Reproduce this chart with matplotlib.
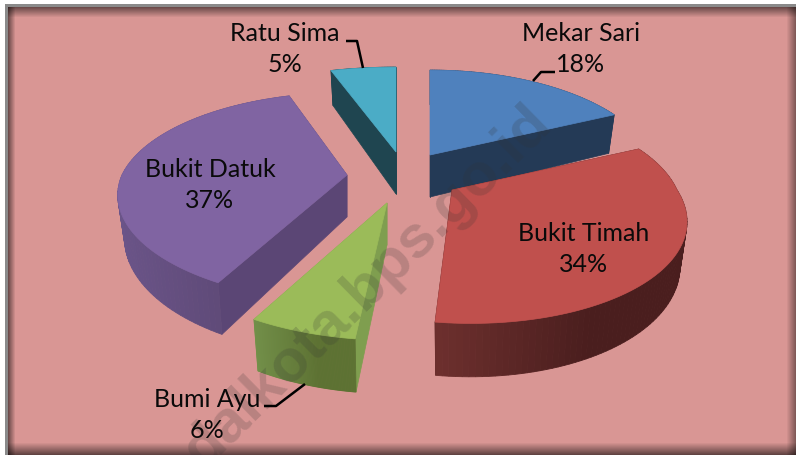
import matplotlib
matplotlib.use("Agg")
import matplotlib.pyplot as plt
import matplotlib.colors as mcolors
from matplotlib.patches import Polygon
import numpy as np

# data
categories = ["Mekar Sari", "Bukit Timah", "Bumi Ayu", "Bukit Datuk", "Ratu Sima"]
values = [18, 34, 6, 37, 5]
watermark = "dalkota.bps.go.id"

# styles per slice
top_colors = ["#4F81BD", "#C0504D", "#9BBB59", "#8064A2", "#4BACC6"]
cut_colors = ["#243A56", "#4A1E1E", "#7F9E4F", "#5B4675", "#1F4550"]
side_left = ["#243A56", "#6E302E", "#728F49", "#6A5488", "#1F4550"]
side_right = ["#243A56", "#4A1E1E", "#5D7233", "#5F4A78", "#1F4550"]

# where each exploded slice sits, in pixels
apex = [(430, 155), (452, 190), (387, 203), (347, 175), (396, 152)]
rx = [222, 225, 232, 225, 253]
ry = [103, 105, 108, 100, 103]
shear = [2, 19, 5, 5, 0]
label_pos = [(581, 49), (584, 249), (207, 415), (210, 185), (285, 49)]
leaders = [
    [(555, 72), (541, 72), (533, 81)],
    None,
    [(264, 406), (276, 406), (305, 384)],
    None,
    [(346, 41), (357, 41), (363, 68)],
]

BG = "#D99694"
K = 0.213
DEPTH = 42
SHRINK = 0.97


def project(a, theta, radius, r_y, sh):
    """Perspective ellipse, theta clockwise from 12 o'clock"""
    x_u, z_u = np.sin(theta), np.cos(theta)
    w = 1 + K * z_u
    x = a[0] + radius * x_u / w + sh * np.maximum(-z_u, 0)
    y = a[1] - r_y * z_u / w
    return x, y, w


def lower(a, x, y, w):
    return a[0] + (x - a[0]) * SHRINK, y + DEPTH / w


def background():
    h, w = 455, 796
    yy, xx = np.mgrid[0:h, 0:w]
    img = np.ones((h, w, 3)) * np.array(mcolors.to_rgb(BG))
    # inner shadow along the frame
    for dist, size, strength in (
        (xx - 8, 7, 0.5),
        (yy - 7, 10, 0.5),
        (795 - xx, 9, 0.4),
        (454 - yy, 12, 0.55),
    ):
        f = np.clip(1 - dist / size, 0, 1) * strength
        img *= (1 - f)[..., None]
    img[:, :8] = mcolors.to_rgb("#8A8A8A")
    img[:7, :] = mcolors.to_rgb("#8A8A8A")
    img[:, :5] = 1
    img[:4, :] = 1
    return img


fig = plt.figure(figsize=(7.96, 4.55), dpi=100)
ax = fig.add_axes([0, 0, 1, 1])
ax.imshow(background(), extent=(0, 796, 455, 0), aspect="auto", zorder=0)
ax.set_xlim(0, 796)
ax.set_ylim(455, 0)
ax.axis("off")

edges = np.cumsum([0] + values) / sum(values) * 2 * np.pi
order = [4, 0, 3, 2, 1]  # back to front

for z, i in enumerate(order):
    theta = np.linspace(edges[i], edges[i + 1], 90)
    x, y, w = project(apex[i], theta, rx[i], ry[i], shear[i])
    bx, by = lower(apex[i], x, y, w)
    base = 1 + z * 10

    # cut faces
    top_apex = apex[i]
    low_apex = (apex[i][0], apex[i][1] + DEPTH)
    for j in (0, -1):
        face = [top_apex, (x[j], y[j]), (bx[j], by[j]), low_apex]
        ax.add_patch(Polygon(face, closed=True, fc=cut_colors[i], ec=cut_colors[i], lw=0.5, zorder=base))

    # outer wall, as strips for the gradient
    c0 = np.array(mcolors.to_rgb(side_left[i]))
    c1 = np.array(mcolors.to_rgb(side_right[i]))
    x_min, x_max = x.min(), x.max()
    for j in range(len(x) - 1):
        t = (x[j] - x_min) / max(x_max - x_min, 1)
        col = c0 + (c1 - c0) * min(t * 1.6, 1)
        strip = [(x[j], y[j]), (x[j + 1], y[j + 1]), (bx[j + 1], by[j + 1]), (bx[j], by[j])]
        ax.add_patch(Polygon(strip, closed=True, fc=col, ec=col, lw=0.6, zorder=base + 1))

    # top face
    pts = [top_apex] + list(zip(x, y))
    ax.add_patch(Polygon(pts, closed=True, fc=top_colors[i], ec=top_colors[i], lw=0.5, zorder=base + 2))

ax.text(367, 287, watermark, rotation=44.5, rotation_mode="anchor", ha="center", va="center",
        fontsize=43, fontweight="bold", family="Liberation Sans", color="#333333", alpha=0.2, zorder=70)

for name, val, pos, line in zip(categories, values, label_pos, leaders):
    ax.text(pos[0], pos[1], f"{name}\n{val}%", ha="center", va="center", family="Lato",
            fontsize=18, color="#0A0A0A", linespacing=1.42, zorder=80)
    if line:
        lx, ly = zip(*line)
        ax.plot(lx, ly, color="black", lw=1.8, zorder=75, solid_capstyle="butt")

fig.savefig("out.png", dpi=100)
